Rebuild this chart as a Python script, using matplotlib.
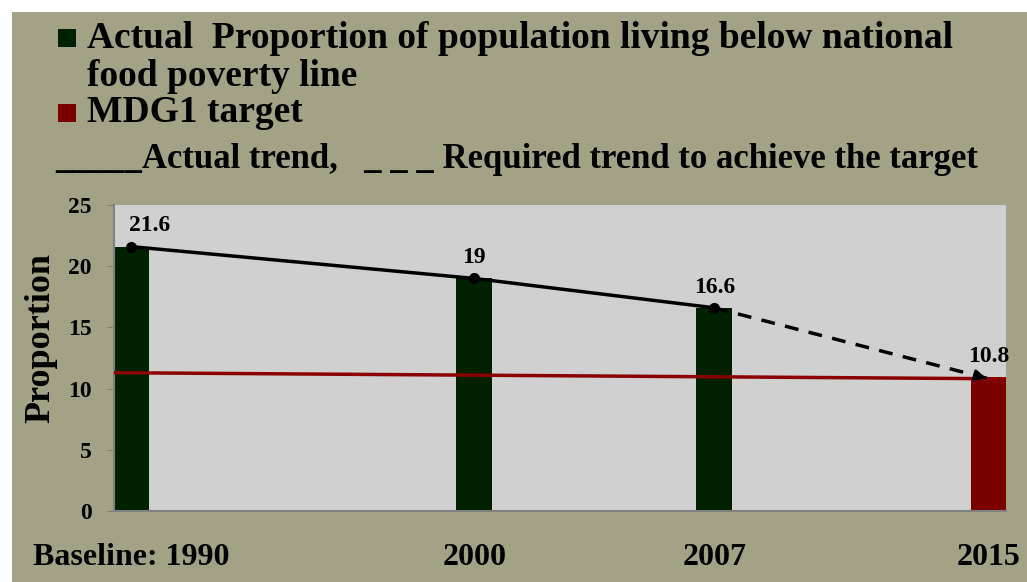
import matplotlib

matplotlib.use("Agg")

from matplotlib import pyplot as plt
from matplotlib.patches import Rectangle

years = [1990, 2000, 2007, 2015]
tick_labels = ["Baseline: 1990", "2000", "2007", "2015"]
values = [21.6, 19, 16.6, 10.8]
bar_colors = ["#002100", "#002100", "#002100", "#7a0000"]
value_labels = ["21.6", "19", "16.6", "10.8"]

actual_years = [1990, 2000, 2007]
actual_values = [21.6, 19, 16.6]
required_years = [2007, 2015]
required_values = [16.6, 10.8]

target_x = [1989.5, 2015.5]
target_y = [11.3, 10.8]

KHAKI = "#a3a287"
SERIF = "Liberation Serif"
W, H = 1027, 582

fig = plt.figure(figsize=(W / 100, H / 100), dpi=100, facecolor="white")
fig.patches.append(Rectangle((12 / W, 0), 1, 1 - 12 / H, transform=fig.transFigure,
                             facecolor=KHAKI, edgecolor="none", zorder=-10))

ax = fig.add_axes([114 / W, 1 - 511 / H, (1006 - 114) / W, (511 - 205) / H])
ax.set_facecolor("#d0d0d0")

ax.bar(years, values, width=1.05, color=bar_colors, zorder=2)
ax.plot(target_x, target_y, color="#8b0000", lw=2.5, zorder=3)
ax.plot(actual_years, actual_values, color="black", lw=2.5, marker="o", ms=7, zorder=4)
ax.plot(required_years, required_values, color="black", lw=2.5, ls=(0, (4, 3)), zorder=4)
slope = (required_values[0] - required_values[1]) / (required_years[1] - required_years[0])
ax.annotate("", xy=(required_years[-1], required_values[-1]),
            xytext=(required_years[-1] - 0.4, required_values[-1] + 0.4 * slope),
            arrowprops=dict(arrowstyle="-|>", color="black", lw=2, mutation_scale=16), zorder=5)

offsets = [(0.55, 1.7), (0, 1.7), (0, 1.7), (0, 1.8)]
for x, y, lab, (dx, dy) in zip(years, values, value_labels, offsets):
    ax.text(x + dx, y + dy, lab, ha="center", va="center", fontsize=17,
            fontweight="bold", family=SERIF, zorder=6)

ax.set_xlim(1989.5, 2015.5)
ax.set_ylim(0, 25)
ax.set_yticks(range(0, 26, 5))
ax.set_xticks(years, tick_labels)
for lab in ax.get_yticklabels() + ax.get_xticklabels():
    lab.set_fontfamily(SERIF)
    lab.set_fontweight("bold")
ax.tick_params(axis="y", labelsize=17, length=5, color="#808080", pad=11)
ax.tick_params(axis="x", labelsize=23, length=0, pad=23)
for s in ["top", "right"]:
    ax.spines[s].set_visible(False)
for s in ["left", "bottom"]:
    ax.spines[s].set_color("#808080")
    ax.spines[s].set_linewidth(1.5)
ax.set_ylabel("Proportion", fontsize=26, fontweight="bold", family=SERIF)
ax.yaxis.set_label_coords(-0.064, 0.565)


# legend text at the top, placed in pixel units
def fx(px):
    return px / W


def fy(py):
    return 1 - py / H


legend_font = dict(fontsize=27, fontweight="bold", family=SERIF, va="center", ha="left")
fig.patches.append(Rectangle((fx(58), fy(47)), 18 / W, 18 / H, transform=fig.transFigure,
                             facecolor="#002100", edgecolor="none"))
fig.text(fx(87), fy(38), "Actual  Proportion of population living below national", **legend_font)
fig.text(fx(87), fy(77), "food poverty line", **legend_font)
fig.patches.append(Rectangle((fx(58), fy(122)), 18 / W, 18 / H, transform=fig.transFigure,
                             facecolor="#7a0000", edgecolor="none"))
fig.text(fx(87), fy(112), "MDG1 target", **legend_font)
fig.text(fx(55), fy(160), "_____Actual trend,   _ _ _ Required trend to achieve the target",
         **{**legend_font, "fontsize": 25})

fig.savefig("out.png", dpi=100, facecolor="white")
